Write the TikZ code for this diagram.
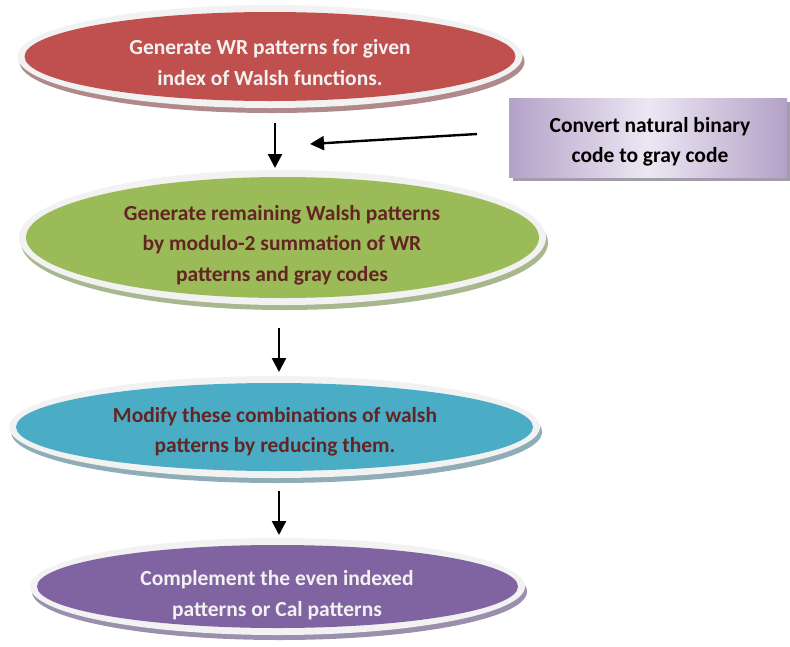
\documentclass[tikz,border=0pt]{standalone}
\usepackage{fontspec}
\setmainfont{Carlito}
\usetikzlibrary{shapes.geometric,shadows,arrows.meta}

\definecolor{rim}{HTML}{F2F2F2}
\definecolor{redfill}{HTML}{C0504D}
\definecolor{redshade}{HTML}{B08A8A}
\definecolor{greenfill}{HTML}{9BBB59}
\definecolor{greenshade}{HTML}{A8B78E}
\definecolor{tealfill}{HTML}{4BACC6}
\definecolor{tealshade}{HTML}{8EADB6}
\definecolor{purplefill}{HTML}{8064A2}
\definecolor{purpleshade}{HTML}{9A90AE}
\definecolor{lighttext}{HTML}{F2F2F2}
\definecolor{darktext}{HTML}{632523}
\definecolor{boxpurple}{HTML}{B3A2C7}
\definecolor{boxlight}{HTML}{ECE7F3}
\definecolor{boxshade}{HTML}{A29CAB}

\tikzset{
  x=1pt, y=-1pt,
  txt/.style={font=\bfseries\fontsize{21.5}{30.5}\selectfont, align=center},
  flow/.style={line width=2.4pt, -{Triangle[length=14pt,width=14pt]}},
  sidebox/.style={rectangle, inner sep=0pt, outer sep=0pt,
    minimum width=278pt, minimum height=79pt,
    shading angle=70, left color=boxpurple, right color=boxpurple, middle color=boxlight,
    general shadow={shadow xshift=4pt, shadow yshift=-4pt, fill=boxshade}}
}

% an oval stage: name, centre x, centre y, outer x radius, outer y radius, fill, shadow
\newcommand\ovalstage[7]{%
  \fill[#7] (#2+2,#3+5) ellipse [x radius=#4pt, y radius=#5pt];
  \fill[rim] (#2,#3) ellipse [x radius=#4pt, y radius=#5pt];
  \fill[#6] (#2,#3) ellipse [x radius=#4pt-7pt, y radius=#5pt-7pt];
  \node[ellipse, inner sep=0pt, outer sep=0pt, minimum width=2*#4pt, minimum height=2*#5pt]
    (#1) at (#2,#3) {};
}

\begin{document}
\begin{tikzpicture}
\useasboundingbox (0,0) rectangle (790,646);

% process stages
\ovalstage{wr}{270}{56.5}{252.5}{51.5}{redfill}{redshade}
\ovalstage{rest}{282.5}{237.5}{263.5}{67.5}{greenfill}{greenshade}
\ovalstage{mod}{274.5}{427}{265.5}{51}{tealfill}{tealshade}
\ovalstage{comp}{277.5}{586.5}{247.5}{48.5}{purplefill}{purpleshade}

\node[txt, text=lighttext] (wrtxt) at (270,62.5) {Generate WR patterns for given\\index of Walsh functions.};
\node[txt, text=darktext] (resttxt) at (282,245) {Generate remaining Walsh patterns\\by modulo-2 summation of WR\\patterns and gray codes};
\node[txt, text=darktext] (modtxt) at (275,432) {Modify these combinations of walsh\\patterns by reducing them.};
\node[txt, text=lighttext] (comptxt) at (277,595) {Complement the even indexed\\patterns or Cal patterns};

% side step: gray code conversion
\node[sidebox] (gray) at (648,137.5) {};
\node[txt, text=black] (graytxt) at (650,142) {Convert natural binary\\code to gray code};

% connectors
\coordinate (colA) at (275,0);
\coordinate (colB) at (279,0);
\draw[flow, shorten <=15pt, shorten >=2pt] (wr.south -| colA) -- (rest.north -| colA);
\draw[flow, shorten <=23pt, shorten >=4pt] (rest.south -| colB) -- (mod.north -| colB);
\draw[flow, shorten <=13pt, shorten >=3pt] (mod.south -| colB) -- (comp.north -| colB);
\coordinate (feed) at (310,144);
\draw[flow] ([shift={(-32,-3.5)}]gray.west) -- (feed);
\end{tikzpicture}
\end{document}
